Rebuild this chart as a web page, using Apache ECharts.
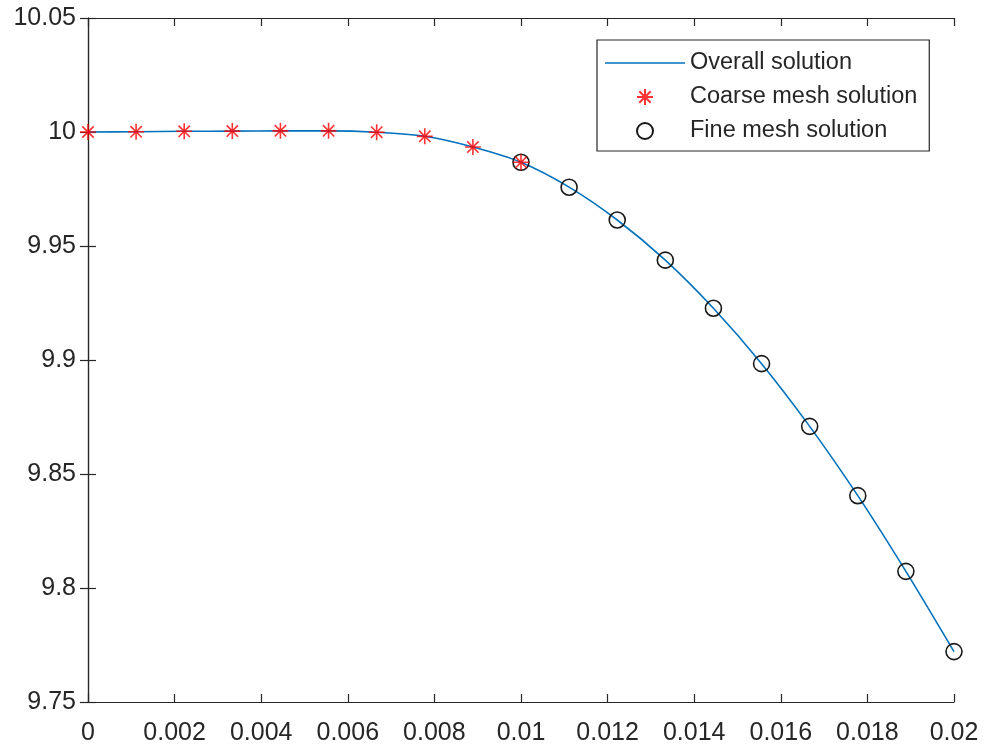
<!DOCTYPE html>
<html>
<head>
<meta charset="utf-8">
<script src="https://cdn.jsdelivr.net/npm/echarts@6/dist/echarts.min.js"></script>
<style>
html,body{margin:0;padding:0;background:#fff;}
#chart{width:986px;height:746px;}
</style>
</head>
<body>
<div id="chart"></div>
<script>
// Coarse mesh solution (x from 0 to 0.01, 10 points)
const coarseX = [0, 0.001111, 0.002222, 0.003333, 0.004444, 0.005556, 0.006667, 0.007778, 0.008889, 0.01];
const coarseY = [10.0000, 10.0001, 10.0003, 10.0004, 10.0005, 10.0005, 9.9999, 9.9981, 9.9934, 9.9867];
// Fine mesh solution (x from 0.01 to 0.02, 10 points)
const fineX = [0.01, 0.011111, 0.012222, 0.013333, 0.014444, 0.015556, 0.016667, 0.017778, 0.018889, 0.02];
const fineY = [9.9867, 9.9758, 9.9614, 9.9438, 9.9227, 9.8984, 9.8709, 9.8405, 9.8073, 9.7721];
// Axis ticks
const xTicks = [0, 0.002, 0.004, 0.006, 0.008, 0.01, 0.012, 0.014, 0.016, 0.018, 0.02];
const yTicks = [9.75, 9.8, 9.85, 9.9, 9.95, 10, 10.05];
const seriesNames = ['Overall solution', 'Coarse mesh solution', 'Fine mesh solution'];

const zip = (xs, ys) => xs.map((x, i) => [x, ys[i]]);
const overall = zip(coarseX, coarseY).concat(zip(fineX.slice(1), fineY.slice(1)));

const axisColor = '#262626';
const fontFam = '"Liberation Sans", Arial, Helvetica, sans-serif';
const asterisk = 'path://M10,0L10,20M0,10L20,10M2.9,2.9L17.1,17.1M2.9,17.1L17.1,2.9';
const ring = 'path://M0,10A10,10,0,1,1,20,10A10,10,0,1,1,0,10Z';
const lineIcon = 'path://M0,0L80,0L80,1.6L0,1.6Z';

const xBase = {
  type: 'value', min: xTicks[0], max: xTicks[xTicks.length - 1], interval: 0.002,
  axisLine: {show: true, lineStyle: {color: axisColor, width: 1.2}},
  axisTick: {show: true, inside: true, length: 8, lineStyle: {color: axisColor, width: 1.2}},
  splitLine: {show: false}
};
const yBase = {
  type: 'value', min: yTicks[0], max: yTicks[yTicks.length - 1], interval: 0.05,
  axisLine: {show: true, lineStyle: {color: axisColor, width: 1.2}},
  axisTick: {show: true, inside: true, length: 8, lineStyle: {color: axisColor, width: 1.2}},
  splitLine: {show: false}
};

const chart = echarts.init(document.getElementById('chart'), null, {renderer: 'canvas'});
chart.setOption({
  backgroundColor: '#fff',
  animation: false,
  grid: {left: 88, right: 32, top: 18, bottom: 42, containLabel: false},
  xAxis: [
    Object.assign({}, xBase, {position: 'bottom',
      axisLabel: {show: true, margin: 19, color: axisColor, fontSize: 25, fontFamily: fontFam}}),
    Object.assign({}, xBase, {position: 'top', axisLabel: {show: false}})
  ],
  yAxis: [
    Object.assign({}, yBase, {position: 'left',
      axisLabel: {show: true, margin: 12, color: axisColor, fontSize: 25, fontFamily: fontFam}}),
    Object.assign({}, yBase, {position: 'right', axisLabel: {show: false}})
  ],
  legend: {
    orient: 'vertical',
    left: 597, top: 40,
    data: [
      {name: seriesNames[0], icon: lineIcon},
      {name: seriesNames[1]},
      {name: seriesNames[2]}
    ],
    itemWidth: 80, itemHeight: 16, itemGap: 10,
    padding: [11, 12, 8, 8],
    borderColor: axisColor, borderWidth: 1.2,
    backgroundColor: '#fff',
    textStyle: {color: axisColor, fontSize: 23.5, fontFamily: fontFam},
    selectedMode: false
  },
  series: [
    {
      name: seriesNames[0], type: 'line', data: overall,
      xAxisIndex: 0, yAxisIndex: 0,
      smooth: 0.3,
      symbol: 'none', showSymbol: false,
      lineStyle: {color: '#0072BD', width: 1.6},
      itemStyle: {color: '#0072BD'},
      z: 2
    },
    {
      name: seriesNames[2], type: 'scatter', data: zip(fineX, fineY),
      symbol: ring, symbolSize: 16,
      itemStyle: {color: 'rgba(0,0,0,0)', borderColor: '#1a1a1a', borderWidth: 1.6, opacity: 1},
      z: 3
    },
    {
      name: seriesNames[1], type: 'scatter', data: zip(coarseX, coarseY),
      symbol: asterisk, symbolSize: 16,
      itemStyle: {color: 'rgba(0,0,0,0)', borderColor: '#FF0000', borderWidth: 1.6},
      z: 4
    }
  ]
});
</script>
</body>
</html>
